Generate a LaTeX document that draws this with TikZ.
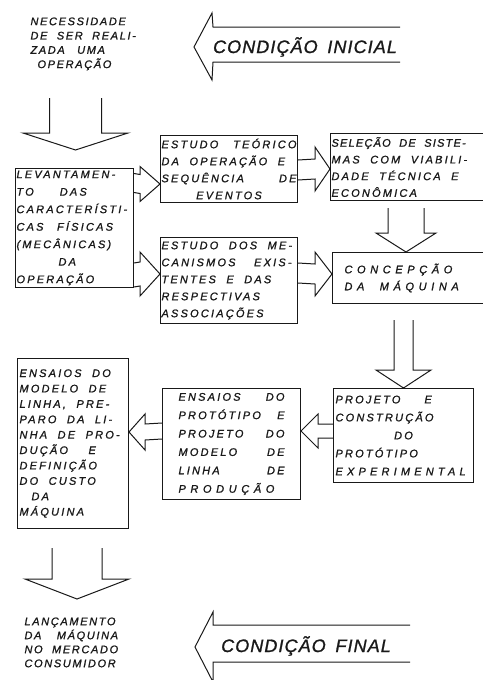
\documentclass[tikz,border=0pt]{standalone}
\usepackage{fontspec}
\usepackage{tikz}
\usetikzlibrary{calc}

\newfontfamily\letra[LetterSpace=20, WordSpace=2, FakeBold=1.2]{Liberation Sans}
\newfontfamily\letrab[LetterSpace=15, WordSpace=2, FakeBold=1.2]{Liberation Sans}
\newfontfamily\letrao[LetterSpace=6, WordSpace=1.6, FakeBold=1.2]{Liberation Sans}

% seta vazada horizontal: cauda, ponta, meia haste, meia cabeca, comprimento da cabeca
\newcommand{\harrow}[5]{%
   \draw ($(#1)+(0,-#3)$) -- ($(#2)+({-(#5)},-#3)$) -- ($(#2)+({-(#5)},-#4)$) -- (#2)
      -- ($(#2)+({-(#5)},#4)$) -- ($(#2)+({-(#5)},#3)$) -- ($(#1)+(0,#3)$);}
% seta vazada para baixo: ponta, comprimento, meia haste, meia cabeca, comprimento da cabeca
\newcommand{\varrow}[5]{%
   \draw ($(#1)+(-#3,-#2)$) -- ($(#1)+(-#3,-#5)$) -- ($(#1)+(-#4,-#5)$) -- (#1)
      -- ($(#1)+(#4,-#5)$) -- ($(#1)+(#3,-#5)$) -- ($(#1)+(#3,-#2)$);}

\tikzset{
   caixa/.style={draw, anchor=north west, inner sep=1pt, align=flush left,
      font=\letra\itshape\fontsize{11}{#1}\selectfont},
   caixa/.default=17,
   texto/.style={anchor=north west, inner sep=0pt, align=flush left,
      font=\letrab\itshape\fontsize{11}{#1}\selectfont},
   texto/.default=14.3,
   grande/.style={anchor=base, inner sep=0pt, font=\letrao\itshape\fontsize{18}{18}\selectfont}
}

\begin{document}
\begin{tikzpicture}[x=1pt,y=-1pt,line width=1pt,color=black!90]
   \useasboundingbox (0,0) rectangle (482,680);

   \node[texto] (nec) at (30,17) {NECESSIDADE\\DE SER REALI-\\ZADA\hspace{3pt} UMA\\\hspace*{7pt}OPERAÇÃO};
   \node[grande] (ini) at (305,53) {CONDIÇÃO INICIAL};
   \draw (400,27) -- (213,27) -- (212,13) -- (194,47) -- (212,80) -- (213,62) -- (400,62);

   \node[caixa=17.5, minimum width=118pt, minimum height=119pt, text width=116pt] (lev) at (15,168)
      {LEVANTAMEN-\\TO\hspace{26pt}DAS\\CARACTERÍSTI-\\CAS\hspace{3pt} FÍSICAS\\(MECÂNICAS)\\\hspace*{42pt}DA\\OPERAÇÃO};
   \node[caixa, minimum width=137pt, minimum height=67pt, text width=135pt] (teo) at (160,135)
      {ESTUDO\hfill TEÓRICO\\DA OPERAÇÃO E\\SEQUÊNCIA\hfill DE\\\hfill EVENTOS\hfill\null};
   \node[caixa=16.7, minimum height=67pt, text width=180pt] (sel) at (330,133)
      {{\addfontfeature{LetterSpace=11}SELEÇÃO DE SISTE-}\\MAS COM VIABILI-\\DADE TÉCNICA E\\ECONÔMICA};
   \node[caixa, minimum height=51pt, inner xsep=12pt, text width=140pt] (con) at (332,252)
      {\addfontfeature{LetterSpace=42}CONCEPÇÃO\\DA MÁQUINA};
   \node[caixa, minimum width=137pt, minimum height=86pt, text width=135pt] (mec) at (160,237)
      {ESTUDO DOS ME-\\CANISMOS\hspace{8pt} EXIS-\\TENTES E DAS\\RESPECTIVAS\\ASSOCIAÇÕES};

   \coordinate (p1) at ($(lev.north)+(1,-18)$);
   \varrow{p1}{52}{26}{52.5}{17}
   \harrow{lev.east |- 0,183}{teo.west |- 0,184}{9.5}{17.5}{20}
   \harrow{lev.east |- 0,275}{mec.west |- 0,274}{12}{22}{20}
   \harrow{teo.east |- 0,170}{sel.west |- 0,169}{10}{22}{15}
   \harrow{mec.east |- 0,273}{con.west |- 0,274}{10}{22}{17}
   \coordinate (p2) at (406,252);
   \varrow{p2}{44}{18}{30}{19}

   \node[caixa=18, minimum width=140pt, minimum height=94pt, text width=136pt] (proj) at (333,388)
      {PROJETO\hspace{24pt}E\\CONSTRUÇÃO\\\hfill DO\hfill\null\\PROTÓTIPO\\{\addfontfeature{LetterSpace=38}EXPERIMENTAL}};
   \node[caixa=18.4, minimum width=138pt, minimum height=111pt, text width=106pt] (ens) at (162,388)
      {ENSAIOS\hfill DO\\PROTÓTIPO\hfill E\\PROJETO\hfill DO\\MODELO\hfill DE\\LINHA\hfill DE\\{\addfontfeature{LetterSpace=42}PRODUÇÃO}};
   \node[caixa=15.4, minimum width=111pt, minimum height=170pt, text width=107pt] (mod) at (17,358)
      {ENSAIOS DO\\MODELO DE\\LINHA, PRE-\\PARO DA LI-\\NHA DE PRO-\\DUÇÃO\hspace{10pt} E\\DEFINIÇÃO\\DO CUSTO\\\hspace*{12pt}DA\\MÁQUINA};

   \varrow{proj.north}{68}{9.5}{27.5}{18}
   \harrow{proj.west |- 0,431}{ens.east |- 0,431}{7}{17}{-17}
   \harrow{ens.west |- 0,431}{mod.east |- 0,432}{8}{18}{-16}
   \coordinate (p3) at ($(mod.south)+(4,70)$);
   \varrow{p3}{51}{25}{52}{20}

   \node[texto=14] (lan) at (24,617) {LANÇAMENTO\\DA\hspace{6pt} MÁQUINA\\NO MERCADO\\CONSUMIDOR};
   \node[grande] (fim) at (306,652) {CONDIÇÃO FINAL};
   \draw (410,625) -- (213,625) -- (213,612) -- (195,647) -- (213,682) -- (213,662) -- (410,662);
\end{tikzpicture}
\end{document}
